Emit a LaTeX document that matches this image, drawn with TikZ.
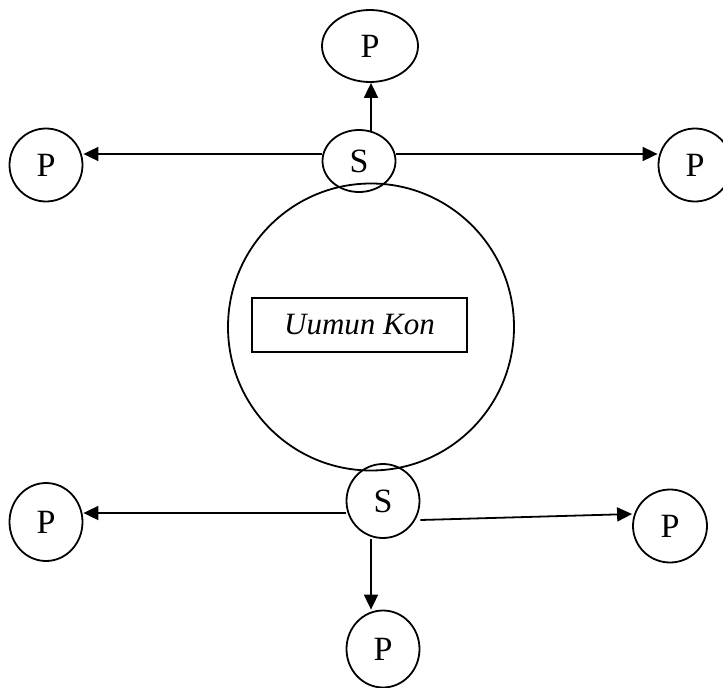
\documentclass[tikz,border=0pt]{standalone}
\usepackage{fontspec}
\setmainfont{Liberation Serif}
\usetikzlibrary{shapes.geometric,arrows.meta}
\begin{document}
\begin{tikzpicture}[x=1pt,y=-1pt,
  oval/.style={ellipse,draw,line width=1.8pt,inner sep=0pt,font=\fontsize{34}{40}\selectfont},
  arr/.style={line width=1.8pt,-{Triangle[length=15pt,width=14pt]}}]
\useasboundingbox (0,0) rectangle (723,688);
% big circle
\node[ellipse,draw,line width=1.8pt,minimum width=286pt,minimum height=287pt] (big) at (371,327) {};
\node[draw,line width=1.8pt,minimum width=215pt,minimum height=54pt,inner sep=0pt,font=\fontsize{31}{36}\selectfont\itshape] (box) at (359.5,325) {Uumun Kon};
% top group
\node[oval,minimum width=96pt,minimum height=72pt] (Ptop) at (370,46) {P};
\node[oval,minimum width=73pt,minimum height=62pt] (S1) at (359,161) {S};
\node[oval,minimum width=73pt,minimum height=73pt] (PL1) at (46,165) {P};
\node[oval,minimum width=73pt,minimum height=73pt] (PR1) at (695,165) {P};
% bottom group
\node[oval,minimum width=73pt,minimum height=74pt] (S2) at (383,501) {S};
\node[oval,minimum width=73pt,minimum height=78pt] (PL2) at (46,522) {P};
\node[oval,minimum width=74pt,minimum height=73pt] (PR2) at (670,526) {P};
\node[oval,minimum width=73pt,minimum height=77pt] (Pbot) at (383,649) {P};
% connectors
\draw[arr] (S1.north -| 371,0) ++(0,3) -- (Ptop.south -| 371,0);
\draw[arr] (S1.west |- 0,154) -- (PL1.east |- 0,154);
\draw[arr] (S1.east |- 0,154) -- (PR1.west |- 0,154);
\draw[arr] (S2.west |- 0,513) -- (PL2.east |- 0,513);
\draw[arr] (S2.east |- 0,520) -- (PR2.west |- 0,514);
\draw[arr] (S2.south -| 371,0) -- (Pbot.north -| 371,0);
\end{tikzpicture}
\end{document}
